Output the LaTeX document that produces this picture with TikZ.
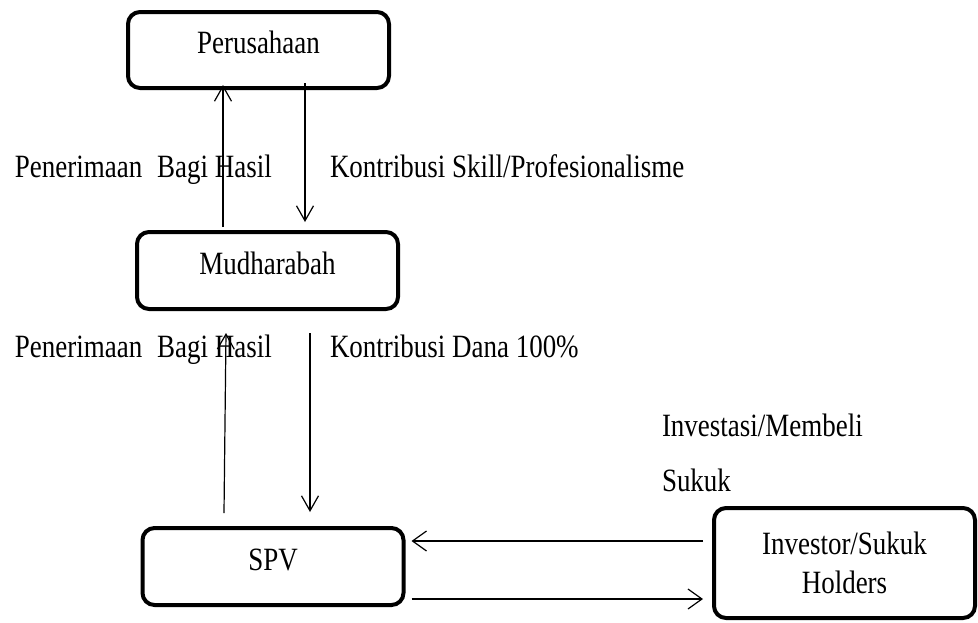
\documentclass[tikz,border=0pt]{standalone}
\usepackage{fontspec}
\setmainfont{Liberation Serif}[FakeStretch=0.83]
\usetikzlibrary{arrows.meta,calc}
\newcommand{\fsz}{\fontsize{32.5}{39}\selectfont}
\begin{document}
\begin{tikzpicture}[x=1pt,y=-1pt,
  box/.style={draw, line width=4pt, rounded corners=12pt, minimum width=261pt,
    inner sep=0pt, outer sep=0pt, font=\fsz},
  onel/.style={text height=20pt, text depth=12.5pt},
  lbl/.style={anchor=base west, inner sep=0pt, outer sep=0pt, font=\fsz},
  varr/.style={line width=1.2pt, -{Straight Barb[length=15pt,width=17pt,line width=1.2pt]}},
  harr/.style={line width=1.2pt, -{Straight Barb[length=14pt,width=20pt,line width=1.2pt]}}]
\useasboundingbox (0,0) rectangle (978,622);
\fill[white] (0,0) rectangle (978,622);

\node[box, onel, minimum height=76pt] (per) at (258.5,50) {Perusahaan};
\node[box, onel, minimum height=77pt] (mud) at (267.5,270.5) {Mudharabah};
\node[box, onel, minimum height=77pt] (spv) at (273,566.5) {SPV};
\node[box, minimum height=110pt, align=center] (inv) at (844.5,563) {Investor/Sukuk\\Holders};

\node[lbl] (l1) at (15,177) {Penerimaan\hspace{0.25em} Bagi Hasil};
\node[lbl] (l2) at (330,177) {Kontribusi Skill/Profesionalisme};
\node[lbl] (l3) at (15,357) {Penerimaan\hspace{0.25em} Bagi Hasil};
\node[lbl] (l4) at (330,357) {Kontribusi Dana 100\%};
\node[lbl] (l5) at (662,436) {Investasi/Membeli};
\node[lbl] (l6) at (662,491) {Sukuk};

\draw[varr] ($(mud.north)+(-44.5,-5)$) -- ($(per.south)+(-35.5,-3)$);
\draw[varr] ($(per.south)+(46.5,-5)$) -- ($(mud.north)+(37.5,-10)$);
\draw[varr] ($(spv.north)+(-49,-15)$) -- ($(mud.south)+(-41.5,24)$);
\draw[varr] ($(mud.south)+(42.5,24)$) -- ($(spv.north)+(37,-16)$);
\draw[harr] ($(inv.west)+(-11,-22)$) -- ($(spv.east)+(8,-25.5)$);
\draw[harr] ($(spv.east)+(8,32.5)$) -- ($(inv.west)+(-11,36)$);
\end{tikzpicture}
\end{document}
